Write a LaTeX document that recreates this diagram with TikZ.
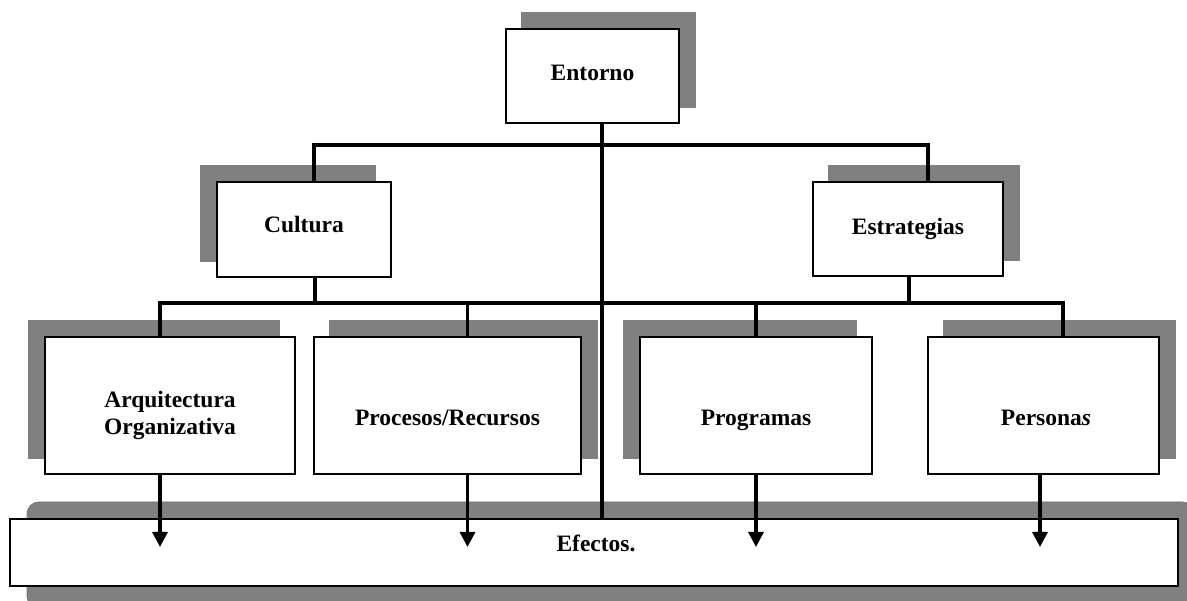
\documentclass[tikz,border=0pt]{standalone}
\usepackage{fontspec}
\setmainfont{Liberation Serif}
\usetikzlibrary{arrows.meta,backgrounds}
\definecolor{shadowgray}{RGB}{128,128,128}
\begin{document}
\begin{tikzpicture}[x=1pt,y=-1pt,
  box/.style={draw=black, line width=2pt, fill=white, rectangle, inner sep=0pt},
  lbl/.style={font=\bfseries\fontsize{23.5}{27}\selectfont, inner sep=0pt, anchor=base},
  conn/.style={line width=3.2pt, line join=miter},
  arr/.style={conn, -{Triangle[width=15pt,length=15pt]}},
  shade/.style={fill=shadowgray}]
\useasboundingbox (0,0) rectangle (1187,601);

% boxes
\node[box, minimum width=173pt, minimum height=94pt]  (ent) at (592.5,76) {};
\node[box, minimum width=174pt, minimum height=95pt]  (cul) at (304,229.5) {};
\node[box, minimum width=190pt, minimum height=94pt]  (est) at (908,229) {};
\node[box, minimum width=250pt, minimum height=137pt] (arq) at (170,405.5) {};
\node[box, minimum width=267pt, minimum height=137pt] (pro) at (447.5,405.5) {};
\node[box, minimum width=232pt, minimum height=137pt] (prg) at (756,405.5) {};
\node[box, minimum width=231pt, minimum height=137pt] (per) at (1043.5,405.5) {};
\node[box, minimum width=1168pt, minimum height=67pt] (efe) at (594,552.5) {};

% labels
\node[lbl] (tEnt)  at (592.5,81)  {Entorno};
\node[lbl] (tCul)  at (304,233)   {Cultura};
\node[lbl] (tEst)  at (908,234.5) {Estrategias};
\node[lbl] (tArqA) at (170,408)   {Arquitectura};
\node[lbl] (tArqB) at (170,435)   {Organizativa};
\node[lbl] (tPro)  at (447.5,426) {Procesos/Recursos};
\node[lbl] (tPrg)  at (756,426)   {Programas};
\node[lbl] (tPer)  at (1046,426)  {Persona\textit{s}};
\node[lbl] (tEfe)  at (596,551.5) {Efectos.};

% shadows behind the boxes
\begin{pgfonlayer}{background}
  \filldraw[shade, draw=black!55, line width=0.8pt, rounded corners=12pt]
    ([shift={(18,-16)}]efe.north west) rectangle (1194,608);
  \fill[shade] ([shift={(16,-16)}]ent.south west) rectangle ([shift={(16,-16)}]ent.north east);
  \fill[shade] ([shift={(-16,-16)}]cul.south west) rectangle ([shift={(-16,-16)}]cul.north east);
  \fill[shade] ([shift={(16,-16)}]est.south west) rectangle ([shift={(16,-16)}]est.north east);
  \fill[shade] ([shift={(-16,-16)}]arq.south west) rectangle ([shift={(-16,-16)}]arq.north east);
  \fill[shade] ([shift={(16,-16)}]pro.south west) rectangle ([shift={(16,-16)}]pro.north east);
  \fill[shade] ([shift={(-16,-16)}]prg.south west) rectangle ([shift={(-16,-16)}]prg.north east);
  \fill[shade] ([shift={(16,-16)}]per.south west) rectangle ([shift={(16,-16)}]per.north east);
\end{pgfonlayer}

% connection points
\coordinate (trunk)  at (602,145);
\coordinate (busTop) at (602,145);
\coordinate (busMid) at (602,303);
\coordinate (tipLvl) at (602,547);
\coordinate (culIn)  at ([xshift=10pt]cul.north);
\coordinate (estIn)  at ([xshift=20pt]est.north);
\coordinate (culOut) at ([xshift=11pt]cul.south);
\coordinate (estOut) at ([xshift=1pt]est.south);
\coordinate (arqIn)  at ([xshift=-10pt]arq.north);
\coordinate (proIn)  at ([xshift=20pt]pro.north);
\coordinate (prgIn)  at (prg.north);
\coordinate (perIn)  at ([xshift=19.5pt]per.north);
\coordinate (arqOut) at ([xshift=-10pt]arq.south);
\coordinate (proOut) at ([xshift=20pt]pro.south);
\coordinate (prgOut) at (prg.south);
\coordinate (perOut) at ([xshift=-3.5pt]per.south);

% trunk from Entorno down to Efectos
\draw[conn] (trunk |- ent.south) -- (trunk |- efe.north);

% upper bus
\draw[conn] (culIn) -- (culIn |- busTop) -- (estIn |- busTop) -- (estIn);

% middle bus
\draw[conn] (arqIn) -- (arqIn |- busMid) -- (perIn |- busMid) -- (perIn);
\draw[conn] (culOut) -- (culOut |- busMid);
\draw[conn] (estOut) -- (estOut |- busMid);
\draw[conn] (proIn |- busMid) -- (proIn);
\draw[conn] (prgIn |- busMid) -- (prgIn);

% arrows into Efectos
\draw[arr] (arqOut) -- (arqOut |- tipLvl);
\draw[arr] (proOut) -- (proOut |- tipLvl);
\draw[arr] (prgOut) -- (prgOut |- tipLvl);
\draw[arr] (perOut) -- (perOut |- tipLvl);
\end{tikzpicture}
\end{document}
